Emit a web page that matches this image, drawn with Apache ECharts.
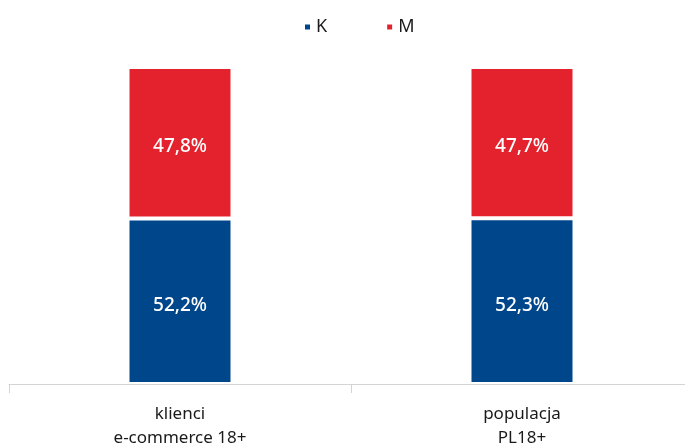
<!DOCTYPE html>
<html>
<head>
    <meta charset="UTF-8" />
    <title>K / M</title>
    <script src="https://cdn.jsdelivr.net/npm/echarts@6/dist/echarts.min.js"></script>
    <style>
        html, body { margin: 0; padding: 0; background: #fff; }
    </style>
</head>
<body>
    <div id="chart" style="width: 685px; height: 443px;"></div>
    <script type="text/javascript">
        var categories = ['klienci\ne-commerce 18+', 'populacja\nPL18+'];
        var valuesK = [52.2, 52.3];
        var valuesM = [47.8, 47.7];

        var chart = echarts.init(document.getElementById('chart'));
        var font = '"Noto Sans", sans-serif';

        var labelFmt = function (p) {
            return p.value.toFixed(1).replace('.', ',') + '%';
        };

        var option = {
            animation: false,
            legend: {
                top: 13,
                left: 298,
                itemWidth: 7,
                itemHeight: 7,
                itemGap: 58,
                icon: 'rect',
                textStyle: { fontFamily: font, fontSize: 18, color: '#1a1a1a' },
                data: ['K', 'M']
            },
            grid: { left: 9, width: 684, top: 67, bottom: 59, outerBoundsMode: 'none', containLabel: false },
            xAxis: {
                type: 'category',
                data: categories,
                axisLine: { lineStyle: { color: '#d4d4d4', width: 1 } },
                axisTick: { show: true, length: 9, lineStyle: { color: '#d4d4d4' } },
                axisLabel: {
                    fontFamily: font,
                    fontSize: 17,
                    color: '#1a1a1a',
                    lineHeight: 24,
                    margin: 18
                }
            },
            yAxis: {
                type: 'value',
                min: 0,
                max: 100,
                show: false,
                splitLine: { show: false }
            },
            series: [
                {
                    name: 'K',
                    type: 'bar',
                    stack: 'total',
                    barWidth: 105,
                    data: valuesK,
                    itemStyle: { color: '#00468b', borderColor: '#fff', borderWidth: 2 },
                    label: {
                        show: true,
                        position: 'inside',
                        offset: [0, 4],
                        formatter: labelFmt,
                        color: '#fff',
                        fontFamily: font,
                        fontSize: 19,
                        fontWeight: 500
                    }
                },
                {
                    name: 'M',
                    type: 'bar',
                    stack: 'total',
                    barWidth: 105,
                    data: valuesM,
                    itemStyle: { color: '#e4222d', borderColor: '#fff', borderWidth: 2 },
                    label: {
                        show: true,
                        position: 'inside',
                        offset: [0, 4],
                        formatter: labelFmt,
                        color: '#fff',
                        fontFamily: font,
                        fontSize: 19,
                        fontWeight: 500
                    }
                }
            ]
        };
        chart.setOption(option);
    </script>
</body>
</html>
